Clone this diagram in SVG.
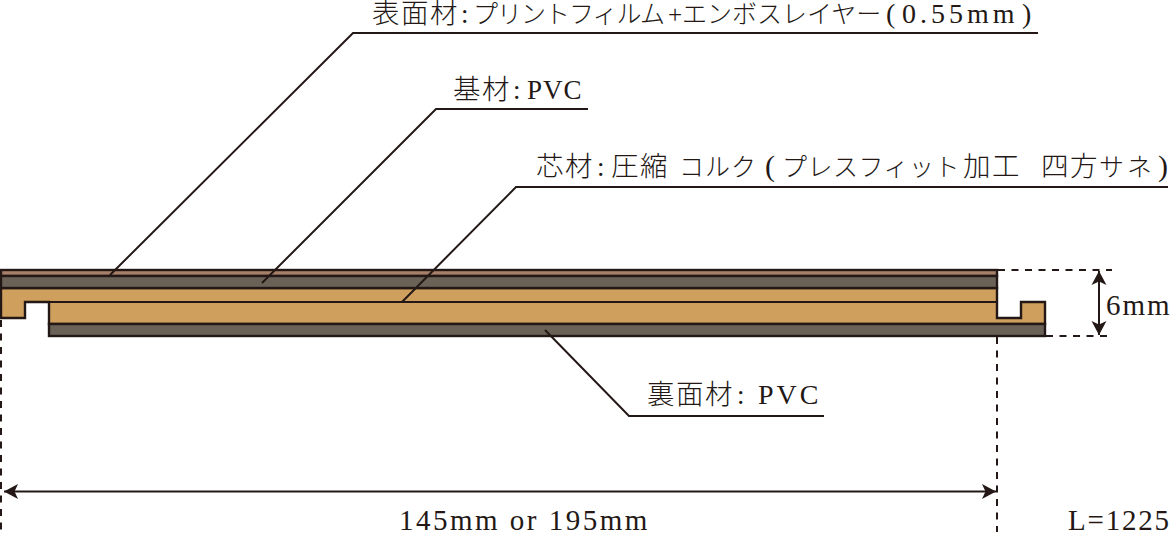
<svg xmlns="http://www.w3.org/2000/svg" width="1171" height="536" viewBox="0 0 1171 536">
<style>
.o{stroke:#231815;stroke-width:2.4;stroke-linejoin:miter}
.l{fill:none;stroke:#231815;stroke-width:2}
.d{fill:none;stroke:#231815;stroke-width:2;stroke-dasharray:7 6.5}
.t{font-family:"Liberation Serif","Noto Sans CJK JP",serif;font-size:27px;fill:#231815;font-weight:300}
.k{font-size:27.500px;letter-spacing:1.500px}
.n{font-size:25px}
.p{font-size:28px}
.m{font-size:29px}
.b{font-size:30px}
</style>
<defs>
<marker id="a" markerUnits="userSpaceOnUse" markerWidth="16" markerHeight="16" refX="14" refY="8" orient="auto-start-reverse">
<path d="M14 8L0 .5L3.500 8L0 15.500Z" fill="#231815"/>
</marker>
</defs>
<g id="board">
<path class="o" fill="#cf9f5d" d="M1 288H997V318H1021V302H1045V324H49V302H25V318H1Z"/>
<rect class="o" fill="#a57f68" x="1" y="270" width="996" height="6"/>
<rect class="o" fill="#6b6257" x="1" y="276" width="996" height="12"/>
<rect class="o" fill="#6b6257" x="49" y="324" width="996" height="12"/>
<path class="l" d="M25 302H997" stroke-width="2.400"/>
</g>
<g id="connectors">
<path class="l" d="M110 275L353 33H1038"/>
<path class="l" d="M262 283L436 109H588"/>
<path class="l" d="M402 302L516 187H1168"/>
<path class="l" d="M545 330L629 416H824"/>
<path class="d" d="M1 320V532"/>
<path class="d" d="M997 337V532"/>
<path class="d" d="M998 270H1112"/>
<path class="d" d="M1046 336H1112"/>
<path class="l" d="M1099 271V335" marker-start="url(#a)" marker-end="url(#a)"/>
<path class="l" d="M4 491.500H996" marker-start="url(#a)" marker-end="url(#a)"/>
</g>
<g id="label-surface"><text class="t" y="23"><tspan class="k" x="372">表面材</tspan><tspan x="461">:</tspan><tspan class="n" x="473" letter-spacing="-1">プリントフィルム</tspan><tspan class="n" x="668">+</tspan><tspan class="n" x="682">エンボスレイヤー</tspan><tspan class="p" x="886">(</tspan><tspan class="p" x="902" letter-spacing="4">0.55mm</tspan><tspan class="p" x="1022">)</tspan></text></g>
<g id="label-base"><text class="t" y="99"><tspan class="k" x="453">基材</tspan><tspan x="513">:</tspan><tspan x="527" letter-spacing="1">PVC</tspan></text></g>
<g id="label-core"><text class="t" y="176"><tspan class="k" x="536">芯材</tspan><tspan x="597">:</tspan><tspan class="k" x="611">圧縮</tspan><tspan class="n" x="679" letter-spacing="1">コルク</tspan><tspan class="b" x="765">(</tspan><tspan class="n" x="782" letter-spacing=".500">プレスフィット</tspan><tspan class="k" x="963">加工</tspan><tspan class="k" x="1041">四方</tspan><tspan class="n" x="1099" letter-spacing="3">サネ</tspan><tspan class="b" x="1158">)</tspan></text></g>
<g id="label-back"><text class="t" y="404"><tspan class="k" x="647">裏面材</tspan><tspan x="737">:</tspan><tspan class="p" x="758" letter-spacing="3">PVC</tspan></text></g>
<g id="label-thickness"><text class="t m" x="1106" y="315" letter-spacing="2">6mm</text></g>
<g id="label-width"><text class="t m" x="399" y="530" letter-spacing="2.500">145mm or 195mm</text></g>
<g id="label-length"><text class="t m" x="1068" y="530" letter-spacing="1.800">L=1225</text></g>
</svg>
